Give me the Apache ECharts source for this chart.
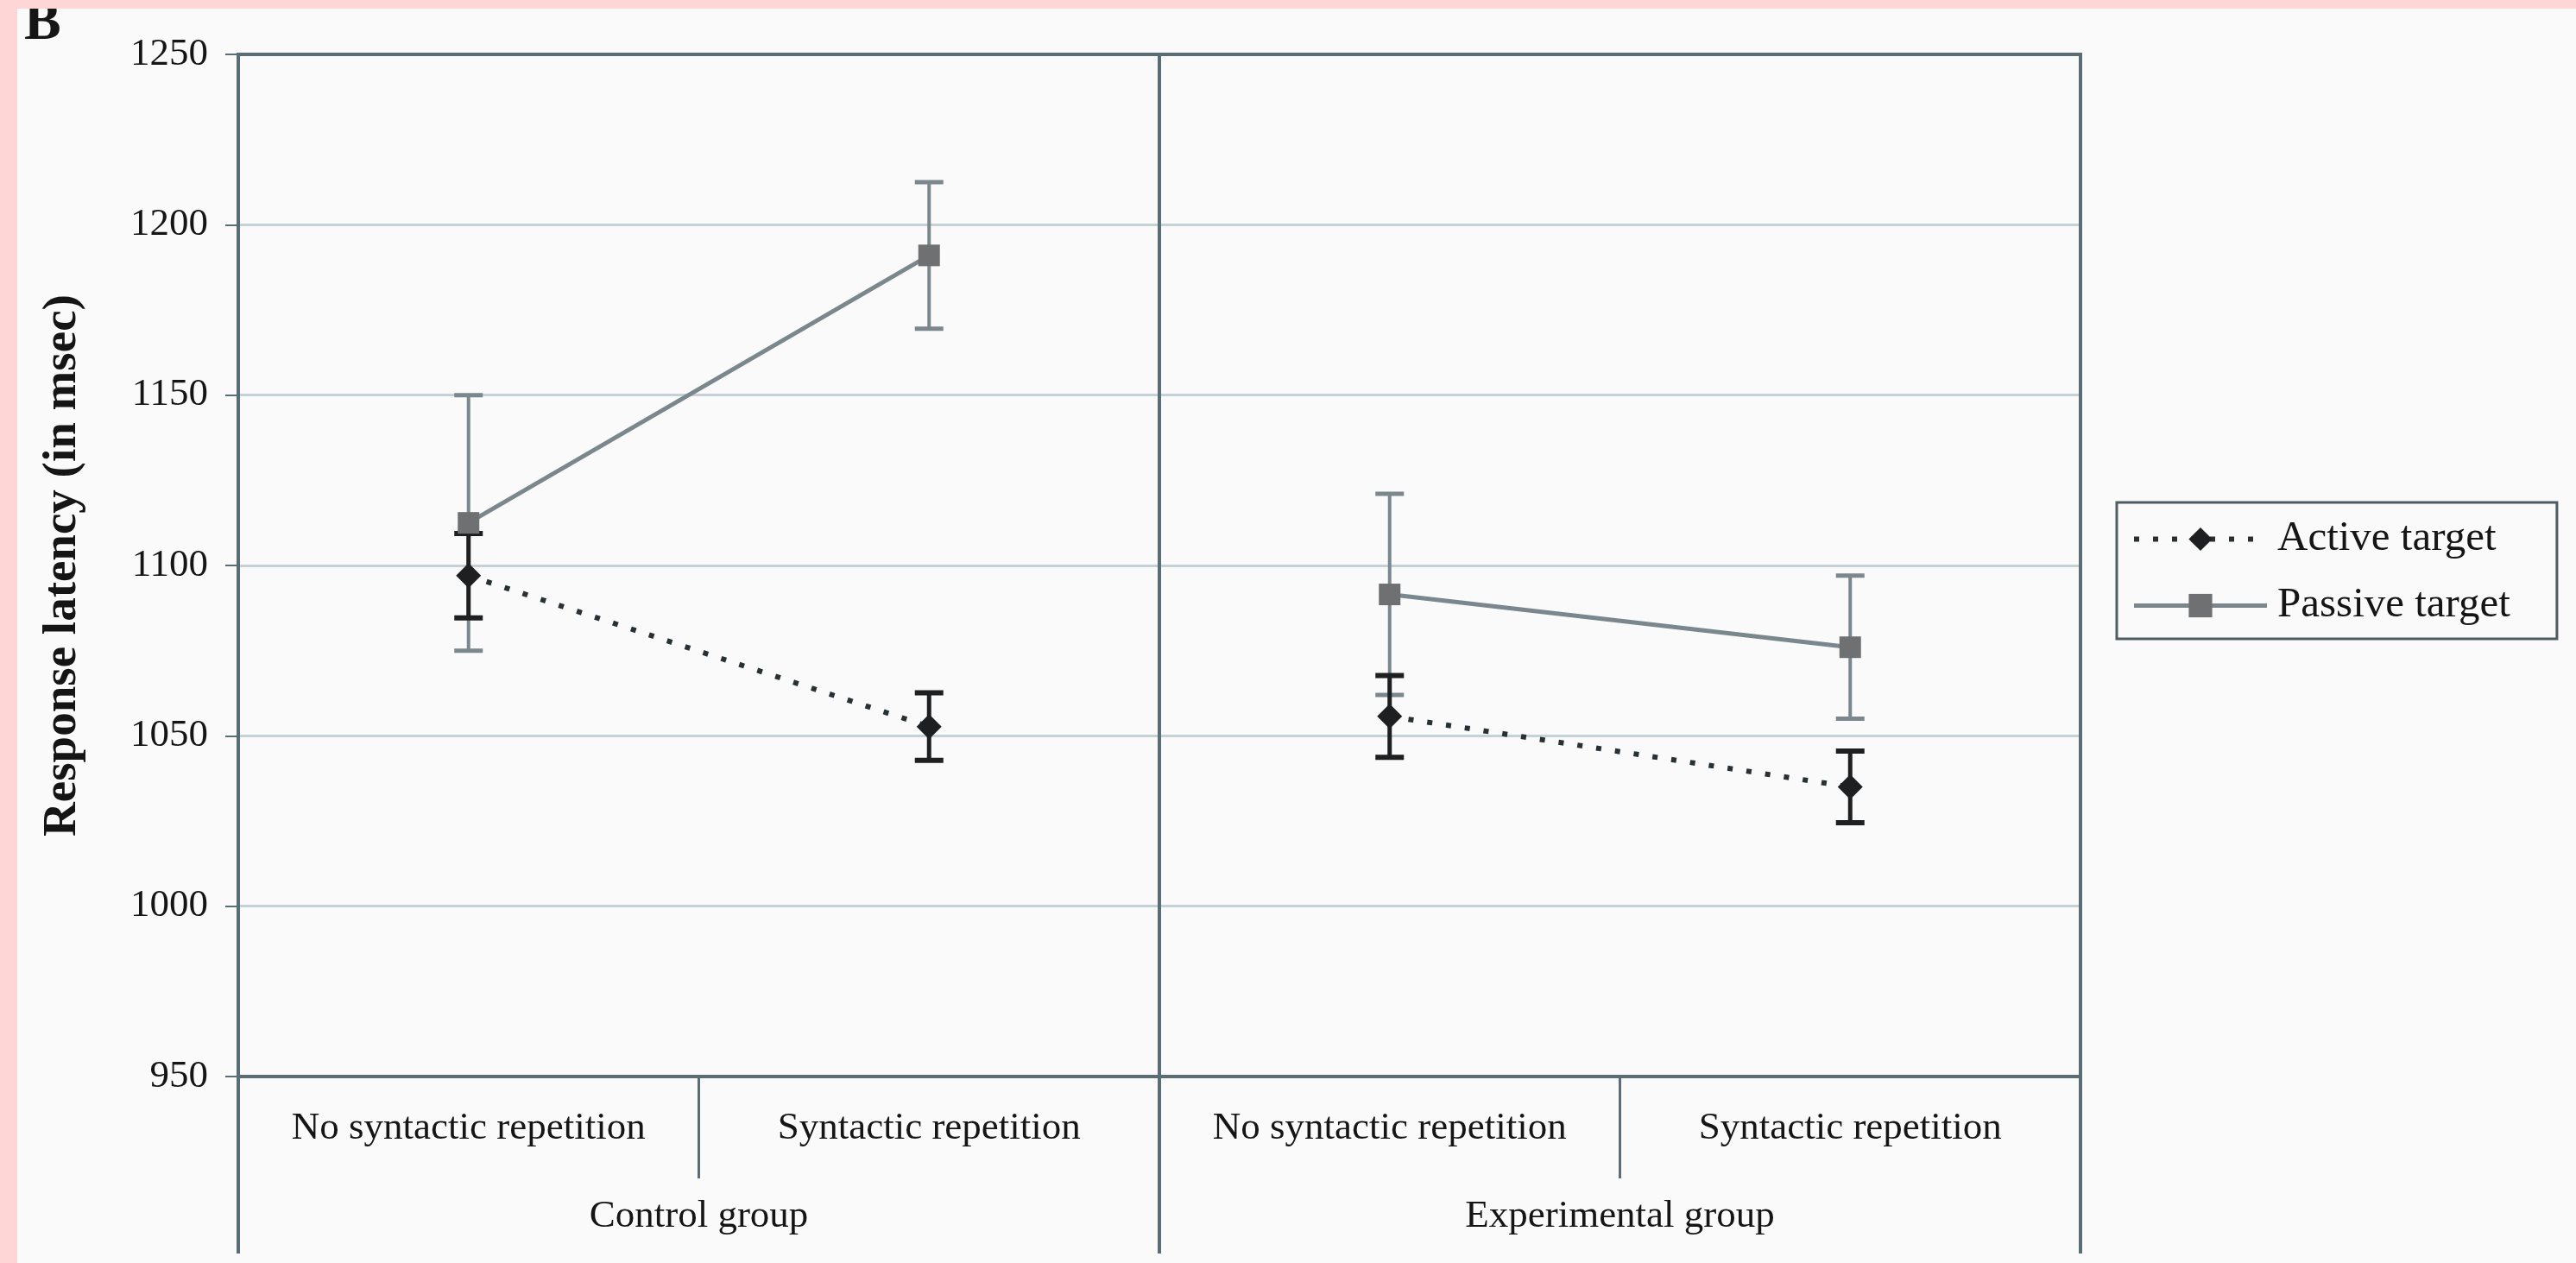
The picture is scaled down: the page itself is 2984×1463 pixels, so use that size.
<!DOCTYPE html>
<html>
<head>
<meta charset="utf-8">
<script src="https://cdn.jsdelivr.net/npm/echarts@6/dist/echarts.min.js"></script>
<style>
  html, body { margin: 0; padding: 0; background: #ffd6d6; width: 2984px; height: 1463px; overflow: hidden; }
  #c { position: absolute; left: 20px; top: 10px; width: 2964px; height: 1453px; background: #fafafa; }
</style>
</head>
<body>
<div id="c"></div>
<script>
// ---- Data ----
const categories = ['No syntactic repetition', 'Syntactic repetition', 'No syntactic repetition', 'Syntactic repetition'];
const groups = ['Control group', 'Experimental group'];
const groupOf = [0, 0, 1, 1];
const seriesNames = ['Active target', 'Passive target'];
const activeMean = [1097, 1052.7, 1055.7, 1035];
const activeErr = [12.4, 9.9, 12, 10.5];
const passiveMean = [1112.5, 1191, 1091.5, 1076];
const passiveErr = [37.5, 21.5, 29.5, 21];
const yMin = 950, yMax = 1250, yStep = 50;

// ---- Styles ----
const FONT = '"Liberation Serif", "Times New Roman", serif';
const AXIS = '#5a6c74';
const GRID = '#c4d1d7';
const ACTIVE = '#1e1f20';
const ACTIVE_LINE = '#283033';
const PASSIVE_LINE = '#7a878d';
const PASSIVE_MARK = '#6e7072';
const ACTIVE_DASH = [6, 16];

function segment(arr, g) { return arr.map((v, i) => groupOf[i] === g ? v : null); }
function errData(mean, err) { return mean.map((m, i) => [i, m - err[i], m + err[i]]); }

function errRender(color, width, capWidth) {
  return function (params, api) {
    const x = api.value(0);
    const lo = api.coord([x, api.value(1)]);
    const hi = api.coord([x, api.value(2)]);
    const half = 16.5;
    const st = { stroke: color, lineWidth: width };
    const cst = { stroke: color, lineWidth: capWidth };
    return {
      type: 'group',
      children: [
        { type: 'line', shape: { x1: hi[0], y1: hi[1], x2: lo[0], y2: lo[1] }, style: st },
        { type: 'line', shape: { x1: hi[0] - half, y1: hi[1], x2: hi[0] + half, y2: hi[1] }, style: cst },
        { type: 'line', shape: { x1: lo[0] - half, y1: lo[1], x2: lo[0] + half, y2: lo[1] }, style: cst }
      ]
    };
  };
}

const activeLineOpts = {
  type: 'line', name: seriesNames[0], xAxisIndex: 0, yAxisIndex: 0,
  symbol: 'diamond', symbolSize: 29, showSymbol: true, connectNulls: false,
  itemStyle: { color: ACTIVE },
  lineStyle: { color: ACTIVE_LINE, width: 6, type: ACTIVE_DASH },
  emphasis: { disabled: true }
};
const passiveLineOpts = {
  type: 'line', name: seriesNames[1], xAxisIndex: 0, yAxisIndex: 0,
  symbol: 'rect', symbolSize: 25, showSymbol: true, connectNulls: false,
  itemStyle: { color: PASSIVE_MARK },
  lineStyle: { color: PASSIVE_LINE, width: 5, type: 'solid' },
  emphasis: { disabled: true }
};

const series = [
  { type: 'custom', name: 'passive-err', xAxisIndex: 0, yAxisIndex: 0,
    renderItem: errRender(PASSIVE_LINE, 4, 5), data: errData(passiveMean, passiveErr),
    encode: { x: 0, y: [1, 2] }, silent: true },
  Object.assign({}, passiveLineOpts, { data: segment(passiveMean, 0) }),
  Object.assign({}, passiveLineOpts, { data: segment(passiveMean, 1) }),
  { type: 'custom', name: 'active-err', xAxisIndex: 0, yAxisIndex: 0,
    renderItem: errRender(ACTIVE, 5, 6), data: errData(activeMean, activeErr),
    encode: { x: 0, y: [1, 2] }, silent: true },
  Object.assign({}, activeLineOpts, { data: segment(activeMean, 0) }),
  Object.assign({}, activeLineOpts, { data: segment(activeMean, 1) })
];

const chart = echarts.init(document.getElementById('c'), null, { renderer: 'canvas' });
chart.setOption({
  animation: false,
  backgroundColor: '#fafafa',
  textStyle: { fontFamily: FONT, color: '#151515' },
  title: {
    text: 'B', left: 3, top: -19,
    textStyle: { fontFamily: FONT, fontSize: 64, fontWeight: 'bold', color: '#151515' }
  },
  grid: {
    left: 256, top: 53, right: 574, bottom: 216,
    show: true, borderColor: AXIS, borderWidth: 4, backgroundColor: 'transparent',
    containLabel: false
  },
  legend: {
    orient: 'vertical', left: 2432, top: 572,
    data: [
      { name: seriesNames[0], lineStyle: { color: ACTIVE_LINE, width: 6, type: ACTIVE_DASH } },
      { name: seriesNames[1], lineStyle: { color: PASSIVE_LINE, width: 5, type: 'solid' } }
    ],
    itemWidth: 154, itemHeight: 34, itemGap: 28,
    padding: [18, 54, 14, 17],
    borderColor: '#4f5d62', borderWidth: 3,
    backgroundColor: '#fafafa',
    textStyle: { fontFamily: FONT, fontSize: 49, color: '#151515', padding: [0, 0, 0, 7] },
    selectedMode: false
  },
  xAxis: [
    {
      type: 'category', gridIndex: 0, position: 'bottom',
      data: categories.map(c => ({ value: c })),
      boundaryGap: true,
      axisLine: { show: true, lineStyle: { color: AXIS, width: 4 } },
      axisTick: { show: true, interval: 0, length: 118, lineStyle: { color: AXIS, width: 3 } },
      axisLabel: { interval: 0, margin: 38, fontFamily: FONT, fontSize: 45, color: '#151515' },
      splitLine: { show: false }
    },
    {
      type: 'category', gridIndex: 0, position: 'bottom', offset: 0,
      data: groups,
      boundaryGap: true,
      axisLine: { show: false },
      axisTick: { show: true, interval: 0, length: 205, lineStyle: { color: AXIS, width: 4 } },
      axisLabel: { interval: 0, margin: 140, fontFamily: FONT, fontSize: 45, color: '#151515' },
      splitLine: { show: true, interval: 0, lineStyle: { color: AXIS, width: 4 } }
    }
  ],
  yAxis: {
    type: 'value', min: yMin, max: yMax, interval: yStep,
    name: 'Response latency (in msec)',
    nameLocation: 'middle', nameRotate: 90, nameGap: 176,
    nameTextStyle: { fontFamily: FONT, fontSize: 55, fontWeight: 'bold', color: '#151515' },
    axisLine: { show: true, lineStyle: { color: AXIS, width: 4 } },
    axisTick: { show: true, inside: false, length: 15, lineStyle: { color: AXIS, width: 2 } },
    axisLabel: { margin: 35, fontFamily: FONT, fontSize: 45, color: '#151515', formatter: v => String(v) },
    splitLine: { show: true, showMinLine: false, showMaxLine: false, lineStyle: { color: GRID, width: 3 } }
  },
  series: series
});
</script>
</body>
</html>
